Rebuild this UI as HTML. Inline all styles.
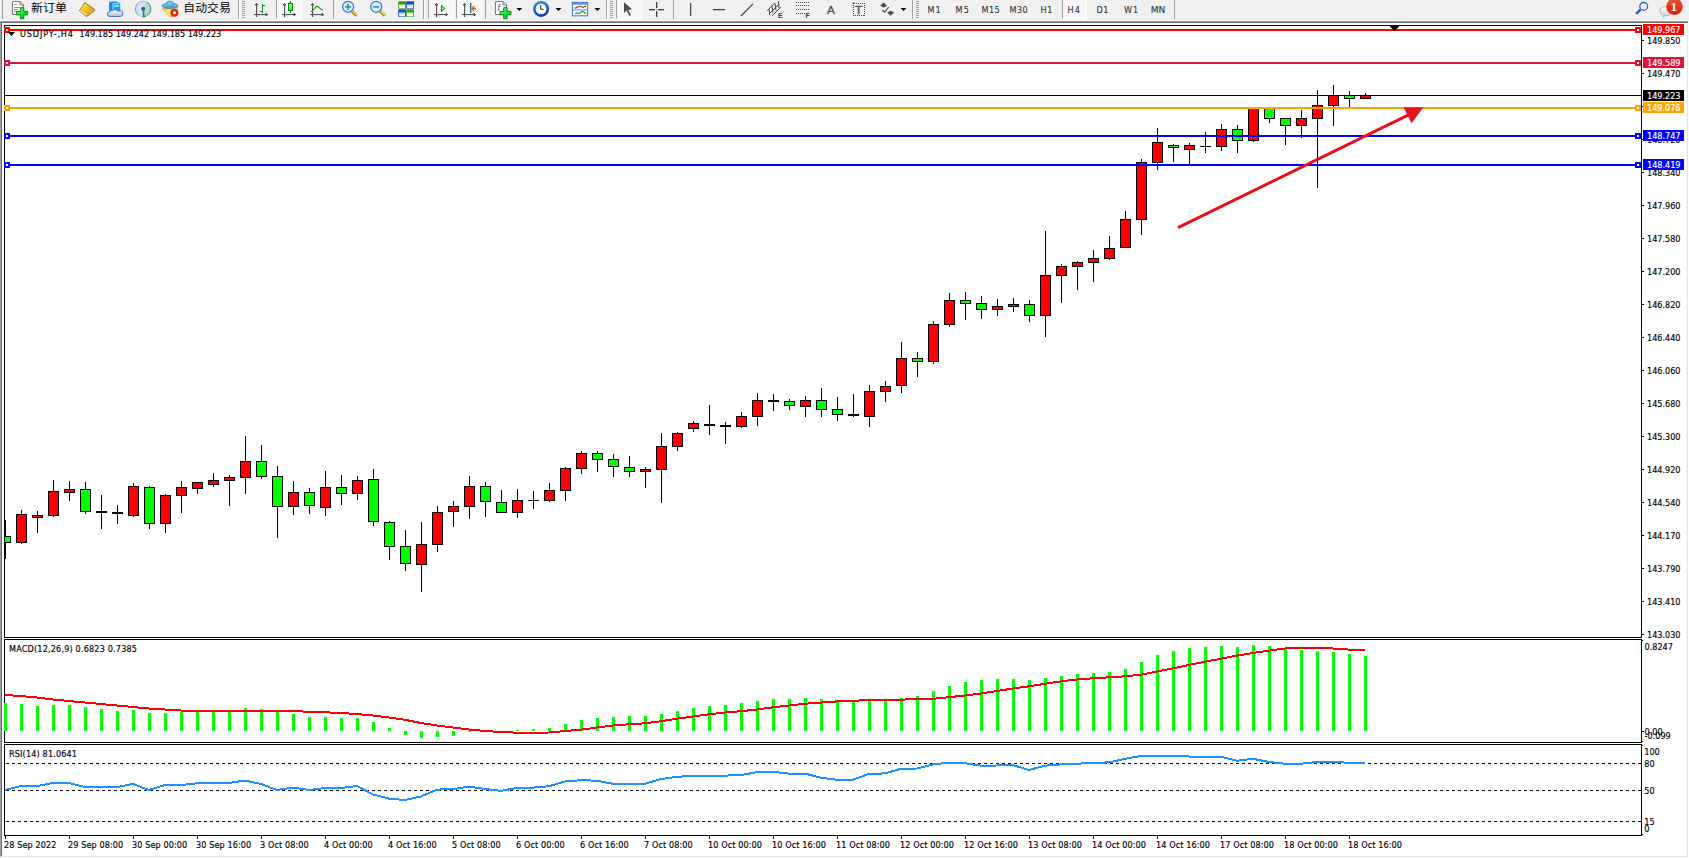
<!DOCTYPE html>
<html lang="zh"><head><meta charset="utf-8"><title>USDJPY-,H4</title>
<style>html,body{margin:0;padding:0;background:#f0f0f0;overflow:hidden}svg{display:block}text{white-space:pre}</style>
</head><body>
<svg width="1689" height="858" viewBox="0 0 1689 858">
<g shape-rendering="crispEdges">
<rect x="0" y="0" width="1689" height="858" fill="#f0f0f0"/>
<rect x="0" y="20" width="1689" height="1" fill="#f6f6f6"/>
<rect x="0" y="21" width="1688" height="1" fill="#a0a0a0"/>
<rect x="1" y="22" width="1687" height="1" fill="#696969"/>
<rect x="0" y="21" width="1" height="836" fill="#a0a0a0"/>
<rect x="1" y="22" width="1" height="834" fill="#696969"/>
<rect x="2" y="23" width="1685" height="833" fill="#ffffff"/>
<rect x="1687" y="23" width="1" height="834" fill="#e3e3e3"/>
<rect x="2" y="856" width="1686" height="1" fill="#e3e3e3"/>
<rect x="1688" y="21" width="1" height="837" fill="#ffffff"/>
<rect x="0" y="857" width="1689" height="1" fill="#ffffff"/>
<rect x="4" y="25" width="1638" height="1" fill="#000"/>
<rect x="4" y="637" width="1638" height="1" fill="#000"/>
<rect x="4" y="25" width="1" height="613" fill="#000"/>
<rect x="1641" y="25" width="1" height="613" fill="#000"/>
<rect x="4" y="639" width="1638" height="1" fill="#000"/>
<rect x="4" y="742" width="1638" height="1" fill="#000"/>
<rect x="4" y="639" width="1" height="104" fill="#000"/>
<rect x="1641" y="639" width="1" height="104" fill="#000"/>
<rect x="4" y="744" width="1638" height="1" fill="#000"/>
<rect x="4" y="835" width="1638" height="1" fill="#000"/>
<rect x="4" y="744" width="1" height="92" fill="#000"/>
<rect x="1641" y="744" width="1" height="92" fill="#000"/>
</g>
<defs><clipPath id="cm"><rect x="5" y="26" width="1636" height="611"/></clipPath></defs>
<g shape-rendering="crispEdges" clip-path="url(#cm)">
<rect x="5" y="520" width="1" height="39" fill="#000"/>
<rect x="0" y="536" width="11" height="7" fill="#000"/>
<rect x="1" y="537" width="9" height="5" fill="#00ff00"/>
<rect x="21" y="510" width="1" height="34" fill="#000"/>
<rect x="16" y="514" width="11" height="29" fill="#000"/>
<rect x="17" y="515" width="9" height="27" fill="#ff0000"/>
<rect x="37" y="511" width="1" height="22" fill="#000"/>
<rect x="32" y="515" width="11" height="3" fill="#000"/>
<rect x="33" y="516" width="9" height="1" fill="#ff0000"/>
<rect x="53" y="480" width="1" height="37" fill="#000"/>
<rect x="48" y="491" width="11" height="25" fill="#000"/>
<rect x="49" y="492" width="9" height="23" fill="#ff0000"/>
<rect x="69" y="481" width="1" height="20" fill="#000"/>
<rect x="64" y="489" width="11" height="4" fill="#000"/>
<rect x="65" y="490" width="9" height="2" fill="#ff0000"/>
<rect x="85" y="482" width="1" height="32" fill="#000"/>
<rect x="80" y="489" width="11" height="23" fill="#000"/>
<rect x="81" y="490" width="9" height="21" fill="#00ff00"/>
<rect x="101" y="495" width="1" height="34" fill="#000"/>
<rect x="96" y="511" width="11" height="2" fill="#000"/>
<rect x="117" y="505" width="1" height="19" fill="#000"/>
<rect x="112" y="512" width="11" height="2" fill="#000"/>
<rect x="133" y="483" width="1" height="34" fill="#000"/>
<rect x="128" y="486" width="11" height="30" fill="#000"/>
<rect x="129" y="487" width="9" height="28" fill="#ff0000"/>
<rect x="149" y="486" width="1" height="43" fill="#000"/>
<rect x="144" y="487" width="11" height="37" fill="#000"/>
<rect x="145" y="488" width="9" height="35" fill="#00ff00"/>
<rect x="165" y="494" width="1" height="39" fill="#000"/>
<rect x="160" y="495" width="11" height="29" fill="#000"/>
<rect x="161" y="496" width="9" height="27" fill="#ff0000"/>
<rect x="181" y="481" width="1" height="32" fill="#000"/>
<rect x="176" y="487" width="11" height="9" fill="#000"/>
<rect x="177" y="488" width="9" height="7" fill="#ff0000"/>
<rect x="197" y="482" width="1" height="12" fill="#000"/>
<rect x="192" y="482" width="11" height="7" fill="#000"/>
<rect x="193" y="483" width="9" height="5" fill="#ff0000"/>
<rect x="213" y="473" width="1" height="14" fill="#000"/>
<rect x="208" y="480" width="11" height="5" fill="#000"/>
<rect x="209" y="481" width="9" height="3" fill="#ff0000"/>
<rect x="229" y="475" width="1" height="31" fill="#000"/>
<rect x="224" y="477" width="11" height="4" fill="#000"/>
<rect x="225" y="478" width="9" height="2" fill="#ff0000"/>
<rect x="245" y="436" width="1" height="58" fill="#000"/>
<rect x="240" y="461" width="11" height="17" fill="#000"/>
<rect x="241" y="462" width="9" height="15" fill="#ff0000"/>
<rect x="261" y="445" width="1" height="34" fill="#000"/>
<rect x="256" y="461" width="11" height="16" fill="#000"/>
<rect x="257" y="462" width="9" height="14" fill="#00ff00"/>
<rect x="277" y="466" width="1" height="72" fill="#000"/>
<rect x="272" y="476" width="11" height="31" fill="#000"/>
<rect x="273" y="477" width="9" height="29" fill="#00ff00"/>
<rect x="293" y="481" width="1" height="34" fill="#000"/>
<rect x="288" y="492" width="11" height="15" fill="#000"/>
<rect x="289" y="493" width="9" height="13" fill="#ff0000"/>
<rect x="309" y="488" width="1" height="26" fill="#000"/>
<rect x="304" y="492" width="11" height="14" fill="#000"/>
<rect x="305" y="493" width="9" height="12" fill="#00ff00"/>
<rect x="325" y="471" width="1" height="45" fill="#000"/>
<rect x="320" y="487" width="11" height="21" fill="#000"/>
<rect x="321" y="488" width="9" height="19" fill="#ff0000"/>
<rect x="341" y="475" width="1" height="30" fill="#000"/>
<rect x="336" y="487" width="11" height="7" fill="#000"/>
<rect x="337" y="488" width="9" height="5" fill="#00ff00"/>
<rect x="357" y="476" width="1" height="24" fill="#000"/>
<rect x="352" y="480" width="11" height="14" fill="#000"/>
<rect x="353" y="481" width="9" height="12" fill="#ff0000"/>
<rect x="373" y="469" width="1" height="57" fill="#000"/>
<rect x="368" y="479" width="11" height="43" fill="#000"/>
<rect x="369" y="480" width="9" height="41" fill="#00ff00"/>
<rect x="389" y="521" width="1" height="39" fill="#000"/>
<rect x="384" y="522" width="11" height="25" fill="#000"/>
<rect x="385" y="523" width="9" height="23" fill="#00ff00"/>
<rect x="405" y="530" width="1" height="41" fill="#000"/>
<rect x="400" y="546" width="11" height="18" fill="#000"/>
<rect x="401" y="547" width="9" height="16" fill="#00ff00"/>
<rect x="421" y="522" width="1" height="70" fill="#000"/>
<rect x="416" y="544" width="11" height="21" fill="#000"/>
<rect x="417" y="545" width="9" height="19" fill="#ff0000"/>
<rect x="437" y="506" width="1" height="46" fill="#000"/>
<rect x="432" y="512" width="11" height="33" fill="#000"/>
<rect x="433" y="513" width="9" height="31" fill="#ff0000"/>
<rect x="453" y="501" width="1" height="26" fill="#000"/>
<rect x="448" y="506" width="11" height="6" fill="#000"/>
<rect x="449" y="507" width="9" height="4" fill="#ff0000"/>
<rect x="469" y="476" width="1" height="43" fill="#000"/>
<rect x="464" y="486" width="11" height="21" fill="#000"/>
<rect x="465" y="487" width="9" height="19" fill="#ff0000"/>
<rect x="485" y="482" width="1" height="35" fill="#000"/>
<rect x="480" y="486" width="11" height="16" fill="#000"/>
<rect x="481" y="487" width="9" height="14" fill="#00ff00"/>
<rect x="501" y="490" width="1" height="23" fill="#000"/>
<rect x="496" y="502" width="11" height="11" fill="#000"/>
<rect x="497" y="503" width="9" height="9" fill="#00ff00"/>
<rect x="517" y="489" width="1" height="29" fill="#000"/>
<rect x="512" y="500" width="11" height="13" fill="#000"/>
<rect x="513" y="501" width="9" height="11" fill="#ff0000"/>
<rect x="533" y="491" width="1" height="18" fill="#000"/>
<rect x="528" y="500" width="11" height="1" fill="#000"/>
<rect x="549" y="483" width="1" height="19" fill="#000"/>
<rect x="544" y="490" width="11" height="11" fill="#000"/>
<rect x="545" y="491" width="9" height="9" fill="#ff0000"/>
<rect x="565" y="467" width="1" height="34" fill="#000"/>
<rect x="560" y="468" width="11" height="23" fill="#000"/>
<rect x="561" y="469" width="9" height="21" fill="#ff0000"/>
<rect x="581" y="451" width="1" height="23" fill="#000"/>
<rect x="576" y="453" width="11" height="16" fill="#000"/>
<rect x="577" y="454" width="9" height="14" fill="#ff0000"/>
<rect x="597" y="451" width="1" height="21" fill="#000"/>
<rect x="592" y="453" width="11" height="7" fill="#000"/>
<rect x="593" y="454" width="9" height="5" fill="#00ff00"/>
<rect x="613" y="454" width="1" height="23" fill="#000"/>
<rect x="608" y="459" width="11" height="8" fill="#000"/>
<rect x="609" y="460" width="9" height="6" fill="#00ff00"/>
<rect x="629" y="456" width="1" height="21" fill="#000"/>
<rect x="624" y="467" width="11" height="5" fill="#000"/>
<rect x="625" y="468" width="9" height="3" fill="#00ff00"/>
<rect x="645" y="467" width="1" height="21" fill="#000"/>
<rect x="640" y="469" width="11" height="3" fill="#000"/>
<rect x="641" y="470" width="9" height="1" fill="#ff0000"/>
<rect x="661" y="433" width="1" height="70" fill="#000"/>
<rect x="656" y="446" width="11" height="24" fill="#000"/>
<rect x="657" y="447" width="9" height="22" fill="#ff0000"/>
<rect x="677" y="432" width="1" height="19" fill="#000"/>
<rect x="672" y="433" width="11" height="14" fill="#000"/>
<rect x="673" y="434" width="9" height="12" fill="#ff0000"/>
<rect x="693" y="421" width="1" height="11" fill="#000"/>
<rect x="688" y="423" width="11" height="6" fill="#000"/>
<rect x="689" y="424" width="9" height="4" fill="#ff0000"/>
<rect x="709" y="405" width="1" height="30" fill="#000"/>
<rect x="704" y="424" width="11" height="2" fill="#000"/>
<rect x="725" y="422" width="1" height="22" fill="#000"/>
<rect x="720" y="425" width="11" height="2" fill="#000"/>
<rect x="741" y="412" width="1" height="16" fill="#000"/>
<rect x="736" y="416" width="11" height="11" fill="#000"/>
<rect x="737" y="417" width="9" height="9" fill="#ff0000"/>
<rect x="757" y="393" width="1" height="33" fill="#000"/>
<rect x="752" y="400" width="11" height="17" fill="#000"/>
<rect x="753" y="401" width="9" height="15" fill="#ff0000"/>
<rect x="773" y="394" width="1" height="17" fill="#000"/>
<rect x="768" y="400" width="11" height="2" fill="#000"/>
<rect x="789" y="399" width="1" height="11" fill="#000"/>
<rect x="784" y="401" width="11" height="5" fill="#000"/>
<rect x="785" y="402" width="9" height="3" fill="#00ff00"/>
<rect x="805" y="396" width="1" height="21" fill="#000"/>
<rect x="800" y="400" width="11" height="7" fill="#000"/>
<rect x="801" y="401" width="9" height="5" fill="#ff0000"/>
<rect x="821" y="388" width="1" height="29" fill="#000"/>
<rect x="816" y="400" width="11" height="10" fill="#000"/>
<rect x="817" y="401" width="9" height="8" fill="#00ff00"/>
<rect x="837" y="397" width="1" height="24" fill="#000"/>
<rect x="832" y="409" width="11" height="6" fill="#000"/>
<rect x="833" y="410" width="9" height="4" fill="#00ff00"/>
<rect x="853" y="394" width="1" height="23" fill="#000"/>
<rect x="848" y="414" width="11" height="2" fill="#000"/>
<rect x="869" y="385" width="1" height="42" fill="#000"/>
<rect x="864" y="391" width="11" height="26" fill="#000"/>
<rect x="865" y="392" width="9" height="24" fill="#ff0000"/>
<rect x="885" y="381" width="1" height="21" fill="#000"/>
<rect x="880" y="386" width="11" height="6" fill="#000"/>
<rect x="881" y="387" width="9" height="4" fill="#ff0000"/>
<rect x="901" y="342" width="1" height="51" fill="#000"/>
<rect x="896" y="358" width="11" height="28" fill="#000"/>
<rect x="897" y="359" width="9" height="26" fill="#ff0000"/>
<rect x="917" y="352" width="1" height="25" fill="#000"/>
<rect x="912" y="358" width="11" height="4" fill="#000"/>
<rect x="913" y="359" width="9" height="2" fill="#00ff00"/>
<rect x="933" y="321" width="1" height="43" fill="#000"/>
<rect x="928" y="324" width="11" height="38" fill="#000"/>
<rect x="929" y="325" width="9" height="36" fill="#ff0000"/>
<rect x="949" y="293" width="1" height="34" fill="#000"/>
<rect x="944" y="300" width="11" height="25" fill="#000"/>
<rect x="945" y="301" width="9" height="23" fill="#ff0000"/>
<rect x="965" y="292" width="1" height="28" fill="#000"/>
<rect x="960" y="300" width="11" height="4" fill="#000"/>
<rect x="961" y="301" width="9" height="2" fill="#00ff00"/>
<rect x="981" y="296" width="1" height="23" fill="#000"/>
<rect x="976" y="303" width="11" height="7" fill="#000"/>
<rect x="977" y="304" width="9" height="5" fill="#00ff00"/>
<rect x="997" y="299" width="1" height="17" fill="#000"/>
<rect x="992" y="306" width="11" height="4" fill="#000"/>
<rect x="993" y="307" width="9" height="2" fill="#ff0000"/>
<rect x="1013" y="298" width="1" height="14" fill="#000"/>
<rect x="1008" y="304" width="11" height="3" fill="#000"/>
<rect x="1009" y="305" width="9" height="1" fill="#ff0000"/>
<rect x="1029" y="300" width="1" height="22" fill="#000"/>
<rect x="1024" y="304" width="11" height="12" fill="#000"/>
<rect x="1025" y="305" width="9" height="10" fill="#00ff00"/>
<rect x="1045" y="231" width="1" height="106" fill="#000"/>
<rect x="1040" y="275" width="11" height="41" fill="#000"/>
<rect x="1041" y="276" width="9" height="39" fill="#ff0000"/>
<rect x="1061" y="264" width="1" height="39" fill="#000"/>
<rect x="1056" y="266" width="11" height="10" fill="#000"/>
<rect x="1057" y="267" width="9" height="8" fill="#ff0000"/>
<rect x="1077" y="261" width="1" height="29" fill="#000"/>
<rect x="1072" y="262" width="11" height="5" fill="#000"/>
<rect x="1073" y="263" width="9" height="3" fill="#ff0000"/>
<rect x="1093" y="250" width="1" height="32" fill="#000"/>
<rect x="1088" y="258" width="11" height="5" fill="#000"/>
<rect x="1089" y="259" width="9" height="3" fill="#ff0000"/>
<rect x="1109" y="236" width="1" height="24" fill="#000"/>
<rect x="1104" y="248" width="11" height="11" fill="#000"/>
<rect x="1105" y="249" width="9" height="9" fill="#ff0000"/>
<rect x="1125" y="211" width="1" height="37" fill="#000"/>
<rect x="1120" y="219" width="11" height="29" fill="#000"/>
<rect x="1121" y="220" width="9" height="27" fill="#ff0000"/>
<rect x="1141" y="159" width="1" height="76" fill="#000"/>
<rect x="1136" y="162" width="11" height="58" fill="#000"/>
<rect x="1137" y="163" width="9" height="56" fill="#ff0000"/>
<rect x="1157" y="128" width="1" height="42" fill="#000"/>
<rect x="1152" y="142" width="11" height="21" fill="#000"/>
<rect x="1153" y="143" width="9" height="19" fill="#ff0000"/>
<rect x="1173" y="144" width="1" height="18" fill="#000"/>
<rect x="1168" y="145" width="11" height="3" fill="#000"/>
<rect x="1169" y="146" width="9" height="1" fill="#00ff00"/>
<rect x="1189" y="143" width="1" height="21" fill="#000"/>
<rect x="1184" y="145" width="11" height="5" fill="#000"/>
<rect x="1185" y="146" width="9" height="3" fill="#ff0000"/>
<rect x="1205" y="132" width="1" height="21" fill="#000"/>
<rect x="1200" y="146" width="11" height="1" fill="#000"/>
<rect x="1221" y="124" width="1" height="27" fill="#000"/>
<rect x="1216" y="129" width="11" height="18" fill="#000"/>
<rect x="1217" y="130" width="9" height="16" fill="#ff0000"/>
<rect x="1237" y="125" width="1" height="28" fill="#000"/>
<rect x="1232" y="129" width="11" height="12" fill="#000"/>
<rect x="1233" y="130" width="9" height="10" fill="#00ff00"/>
<rect x="1253" y="107" width="1" height="35" fill="#000"/>
<rect x="1248" y="107" width="11" height="34" fill="#000"/>
<rect x="1249" y="108" width="9" height="32" fill="#ff0000"/>
<rect x="1269" y="107" width="1" height="16" fill="#000"/>
<rect x="1264" y="107" width="11" height="12" fill="#000"/>
<rect x="1265" y="108" width="9" height="10" fill="#00ff00"/>
<rect x="1285" y="118" width="1" height="27" fill="#000"/>
<rect x="1280" y="118" width="11" height="8" fill="#000"/>
<rect x="1281" y="119" width="9" height="6" fill="#00ff00"/>
<rect x="1301" y="110" width="1" height="28" fill="#000"/>
<rect x="1296" y="118" width="11" height="8" fill="#000"/>
<rect x="1297" y="119" width="9" height="6" fill="#ff0000"/>
<rect x="1317" y="90" width="1" height="98" fill="#000"/>
<rect x="1312" y="105" width="11" height="14" fill="#000"/>
<rect x="1313" y="106" width="9" height="12" fill="#ff0000"/>
<rect x="1333" y="85" width="1" height="41" fill="#000"/>
<rect x="1328" y="95" width="11" height="11" fill="#000"/>
<rect x="1329" y="96" width="9" height="9" fill="#ff0000"/>
<rect x="1349" y="91" width="1" height="16" fill="#000"/>
<rect x="1344" y="95" width="11" height="4" fill="#000"/>
<rect x="1345" y="96" width="9" height="2" fill="#00ff00"/>
<rect x="1365" y="93" width="1" height="6" fill="#000"/>
<rect x="1360" y="95" width="11" height="4" fill="#000"/>
<rect x="1361" y="96" width="9" height="2" fill="#ff0000"/>
</g>
<g shape-rendering="crispEdges">
<rect x="5" y="95" width="1636" height="1" fill="#000"/>
<rect x="1642" y="40" width="2" height="1" fill="#000"/>
<rect x="1642" y="73" width="2" height="1" fill="#000"/>
<rect x="1642" y="106" width="2" height="1" fill="#000"/>
<rect x="1642" y="139" width="2" height="1" fill="#000"/>
<rect x="1642" y="172" width="2" height="1" fill="#000"/>
<rect x="1642" y="205" width="2" height="1" fill="#000"/>
<rect x="1642" y="238" width="2" height="1" fill="#000"/>
<rect x="1642" y="271" width="2" height="1" fill="#000"/>
<rect x="1642" y="304" width="2" height="1" fill="#000"/>
<rect x="1642" y="337" width="2" height="1" fill="#000"/>
<rect x="1642" y="370" width="2" height="1" fill="#000"/>
<rect x="1642" y="403" width="2" height="1" fill="#000"/>
<rect x="1642" y="436" width="2" height="1" fill="#000"/>
<rect x="1642" y="469" width="2" height="1" fill="#000"/>
<rect x="1642" y="502" width="2" height="1" fill="#000"/>
<rect x="1642" y="535" width="2" height="1" fill="#000"/>
<rect x="1642" y="568" width="2" height="1" fill="#000"/>
<rect x="1642" y="601" width="2" height="1" fill="#000"/>
<rect x="1642" y="634" width="2" height="1" fill="#000"/>
</g>
<text x="1647" y="44" font-size="9" fill="#000" stroke="#000" stroke-width="0.15" font-family="'DejaVu Sans Condensed','Liberation Sans',sans-serif">149.850</text>
<text x="1647" y="77" font-size="9" fill="#000" stroke="#000" stroke-width="0.15" font-family="'DejaVu Sans Condensed','Liberation Sans',sans-serif">149.470</text>
<text x="1647" y="110" font-size="9" fill="#000" stroke="#000" stroke-width="0.15" font-family="'DejaVu Sans Condensed','Liberation Sans',sans-serif">149.090</text>
<text x="1647" y="143" font-size="9" fill="#000" stroke="#000" stroke-width="0.15" font-family="'DejaVu Sans Condensed','Liberation Sans',sans-serif">148.720</text>
<text x="1647" y="176" font-size="9" fill="#000" stroke="#000" stroke-width="0.15" font-family="'DejaVu Sans Condensed','Liberation Sans',sans-serif">148.340</text>
<text x="1647" y="209" font-size="9" fill="#000" stroke="#000" stroke-width="0.15" font-family="'DejaVu Sans Condensed','Liberation Sans',sans-serif">147.960</text>
<text x="1647" y="242" font-size="9" fill="#000" stroke="#000" stroke-width="0.15" font-family="'DejaVu Sans Condensed','Liberation Sans',sans-serif">147.580</text>
<text x="1647" y="275" font-size="9" fill="#000" stroke="#000" stroke-width="0.15" font-family="'DejaVu Sans Condensed','Liberation Sans',sans-serif">147.200</text>
<text x="1647" y="308" font-size="9" fill="#000" stroke="#000" stroke-width="0.15" font-family="'DejaVu Sans Condensed','Liberation Sans',sans-serif">146.820</text>
<text x="1647" y="341" font-size="9" fill="#000" stroke="#000" stroke-width="0.15" font-family="'DejaVu Sans Condensed','Liberation Sans',sans-serif">146.440</text>
<text x="1647" y="374" font-size="9" fill="#000" stroke="#000" stroke-width="0.15" font-family="'DejaVu Sans Condensed','Liberation Sans',sans-serif">146.060</text>
<text x="1647" y="407" font-size="9" fill="#000" stroke="#000" stroke-width="0.15" font-family="'DejaVu Sans Condensed','Liberation Sans',sans-serif">145.680</text>
<text x="1647" y="440" font-size="9" fill="#000" stroke="#000" stroke-width="0.15" font-family="'DejaVu Sans Condensed','Liberation Sans',sans-serif">145.300</text>
<text x="1647" y="473" font-size="9" fill="#000" stroke="#000" stroke-width="0.15" font-family="'DejaVu Sans Condensed','Liberation Sans',sans-serif">144.920</text>
<text x="1647" y="506" font-size="9" fill="#000" stroke="#000" stroke-width="0.15" font-family="'DejaVu Sans Condensed','Liberation Sans',sans-serif">144.540</text>
<text x="1647" y="539" font-size="9" fill="#000" stroke="#000" stroke-width="0.15" font-family="'DejaVu Sans Condensed','Liberation Sans',sans-serif">144.170</text>
<text x="1647" y="572" font-size="9" fill="#000" stroke="#000" stroke-width="0.15" font-family="'DejaVu Sans Condensed','Liberation Sans',sans-serif">143.790</text>
<text x="1647" y="605" font-size="9" fill="#000" stroke="#000" stroke-width="0.15" font-family="'DejaVu Sans Condensed','Liberation Sans',sans-serif">143.410</text>
<text x="1647" y="638" font-size="9" fill="#000" stroke="#000" stroke-width="0.15" font-family="'DejaVu Sans Condensed','Liberation Sans',sans-serif">143.030</text>
<g shape-rendering="crispEdges">
<rect x="4" y="29" width="1637" height="2" fill="#ff0000"/>
<rect x="4" y="27" width="6" height="6" fill="#ff0000"/>
<rect x="6" y="29" width="2" height="2" fill="#fff"/>
<rect x="1635" y="27" width="6" height="6" fill="#ff0000"/>
<rect x="1637" y="29" width="2" height="2" fill="#fff"/>
<rect x="1643" y="24" width="41" height="11" fill="#ff0000"/>
<rect x="4" y="62" width="1637" height="2" fill="#dc143c"/>
<rect x="4" y="60" width="6" height="6" fill="#dc143c"/>
<rect x="6" y="62" width="2" height="2" fill="#fff"/>
<rect x="1635" y="60" width="6" height="6" fill="#dc143c"/>
<rect x="1637" y="62" width="2" height="2" fill="#fff"/>
<rect x="1643" y="57" width="41" height="11" fill="#dc143c"/>
<rect x="4" y="107" width="1637" height="2" fill="#ffa500"/>
<rect x="4" y="105" width="6" height="6" fill="#ffa500"/>
<rect x="6" y="107" width="2" height="2" fill="#fff"/>
<rect x="1635" y="105" width="6" height="6" fill="#ffa500"/>
<rect x="1637" y="107" width="2" height="2" fill="#fff"/>
<rect x="1643" y="102" width="41" height="11" fill="#ffa500"/>
<rect x="4" y="135" width="1637" height="2" fill="#0000ff"/>
<rect x="4" y="133" width="6" height="6" fill="#0000ff"/>
<rect x="6" y="135" width="2" height="2" fill="#fff"/>
<rect x="1635" y="133" width="6" height="6" fill="#0000ff"/>
<rect x="1637" y="135" width="2" height="2" fill="#fff"/>
<rect x="1643" y="130" width="41" height="11" fill="#0000ff"/>
<rect x="4" y="164" width="1637" height="2" fill="#0000ff"/>
<rect x="4" y="162" width="6" height="6" fill="#0000ff"/>
<rect x="6" y="164" width="2" height="2" fill="#fff"/>
<rect x="1635" y="162" width="6" height="6" fill="#0000ff"/>
<rect x="1637" y="164" width="2" height="2" fill="#fff"/>
<rect x="1643" y="159" width="41" height="11" fill="#0000ff"/>
<rect x="1643" y="90" width="41" height="11" fill="#000"/>
</g>
<text x="1647" y="33" font-size="9" fill="#fff" stroke="#fff" stroke-width="0.15" font-family="'DejaVu Sans Condensed','Liberation Sans',sans-serif">149.967</text>
<text x="1647" y="66" font-size="9" fill="#fff" stroke="#fff" stroke-width="0.15" font-family="'DejaVu Sans Condensed','Liberation Sans',sans-serif">149.589</text>
<text x="1647" y="111" font-size="9" fill="#fff" stroke="#fff" stroke-width="0.15" font-family="'DejaVu Sans Condensed','Liberation Sans',sans-serif">149.076</text>
<text x="1647" y="139" font-size="9" fill="#fff" stroke="#fff" stroke-width="0.15" font-family="'DejaVu Sans Condensed','Liberation Sans',sans-serif">148.747</text>
<text x="1647" y="168" font-size="9" fill="#fff" stroke="#fff" stroke-width="0.15" font-family="'DejaVu Sans Condensed','Liberation Sans',sans-serif">148.419</text>
<text x="1647" y="99" font-size="9" fill="#fff" stroke="#fff" stroke-width="0.15" font-family="'DejaVu Sans Condensed','Liberation Sans',sans-serif">149.223</text>
<polygon points="8,32 15,32 11.5,36" fill="#000"/>
<polygon points="1389.5,26 1399.5,26 1394.5,31" fill="#000"/>
<text x="20" y="37" font-size="9" fill="#000" stroke="#000" stroke-width="0.15" font-family="'DejaVu Sans Condensed','Liberation Sans',sans-serif" textLength="53" lengthAdjust="spacing">USDJPY-,H4</text>
<text x="79.6" y="37" font-size="9" fill="#000" stroke="#000" stroke-width="0.15" font-family="'DejaVu Sans Condensed','Liberation Sans',sans-serif">149.185 149.242 149.185 149.223</text>
<line x1="1178" y1="227.6" x2="1409" y2="114.6" stroke="#e8111b" stroke-width="3"/>
<polygon points="1423.4,107.3 1403.5,107.3 1411.5,123.2" fill="#e8111b"/>
<g shape-rendering="crispEdges">
<rect x="4" y="703" width="3" height="28" fill="#00ff00"/>
<rect x="20" y="704" width="3" height="27" fill="#00ff00"/>
<rect x="36" y="706" width="3" height="25" fill="#00ff00"/>
<rect x="52" y="705" width="3" height="26" fill="#00ff00"/>
<rect x="68" y="705" width="3" height="26" fill="#00ff00"/>
<rect x="84" y="707" width="3" height="24" fill="#00ff00"/>
<rect x="100" y="709" width="3" height="22" fill="#00ff00"/>
<rect x="116" y="711" width="3" height="20" fill="#00ff00"/>
<rect x="132" y="710" width="3" height="21" fill="#00ff00"/>
<rect x="148" y="713" width="3" height="18" fill="#00ff00"/>
<rect x="164" y="713" width="3" height="18" fill="#00ff00"/>
<rect x="180" y="712" width="3" height="19" fill="#00ff00"/>
<rect x="196" y="711" width="3" height="20" fill="#00ff00"/>
<rect x="212" y="711" width="3" height="20" fill="#00ff00"/>
<rect x="228" y="711" width="3" height="20" fill="#00ff00"/>
<rect x="244" y="708" width="3" height="23" fill="#00ff00"/>
<rect x="260" y="709" width="3" height="22" fill="#00ff00"/>
<rect x="276" y="711" width="3" height="20" fill="#00ff00"/>
<rect x="292" y="714" width="3" height="17" fill="#00ff00"/>
<rect x="308" y="717" width="3" height="14" fill="#00ff00"/>
<rect x="324" y="717" width="3" height="14" fill="#00ff00"/>
<rect x="340" y="718" width="3" height="13" fill="#00ff00"/>
<rect x="356" y="718" width="3" height="13" fill="#00ff00"/>
<rect x="372" y="722" width="3" height="9" fill="#00ff00"/>
<rect x="388" y="728" width="3" height="3" fill="#00ff00"/>
<rect x="404" y="731" width="3" height="4" fill="#00ff00"/>
<rect x="420" y="731" width="3" height="7" fill="#00ff00"/>
<rect x="436" y="731" width="3" height="6" fill="#00ff00"/>
<rect x="452" y="731" width="3" height="5" fill="#00ff00"/>
<rect x="468" y="731" width="3" height="1" fill="#00ff00"/>
<rect x="516" y="730" width="3" height="1" fill="#00ff00"/>
<rect x="532" y="729" width="3" height="2" fill="#00ff00"/>
<rect x="548" y="728" width="3" height="3" fill="#00ff00"/>
<rect x="564" y="724" width="3" height="7" fill="#00ff00"/>
<rect x="580" y="720" width="3" height="11" fill="#00ff00"/>
<rect x="596" y="718" width="3" height="13" fill="#00ff00"/>
<rect x="612" y="717" width="3" height="14" fill="#00ff00"/>
<rect x="628" y="716" width="3" height="15" fill="#00ff00"/>
<rect x="644" y="716" width="3" height="15" fill="#00ff00"/>
<rect x="660" y="714" width="3" height="17" fill="#00ff00"/>
<rect x="676" y="711" width="3" height="20" fill="#00ff00"/>
<rect x="692" y="708" width="3" height="23" fill="#00ff00"/>
<rect x="708" y="706" width="3" height="25" fill="#00ff00"/>
<rect x="724" y="705" width="3" height="26" fill="#00ff00"/>
<rect x="740" y="703" width="3" height="28" fill="#00ff00"/>
<rect x="756" y="701" width="3" height="30" fill="#00ff00"/>
<rect x="772" y="699" width="3" height="32" fill="#00ff00"/>
<rect x="788" y="699" width="3" height="32" fill="#00ff00"/>
<rect x="804" y="698" width="3" height="33" fill="#00ff00"/>
<rect x="820" y="699" width="3" height="32" fill="#00ff00"/>
<rect x="836" y="701" width="3" height="30" fill="#00ff00"/>
<rect x="852" y="702" width="3" height="29" fill="#00ff00"/>
<rect x="868" y="701" width="3" height="30" fill="#00ff00"/>
<rect x="884" y="700" width="3" height="31" fill="#00ff00"/>
<rect x="900" y="698" width="3" height="33" fill="#00ff00"/>
<rect x="916" y="696" width="3" height="35" fill="#00ff00"/>
<rect x="932" y="691" width="3" height="40" fill="#00ff00"/>
<rect x="948" y="686" width="3" height="45" fill="#00ff00"/>
<rect x="964" y="682" width="3" height="49" fill="#00ff00"/>
<rect x="980" y="680" width="3" height="51" fill="#00ff00"/>
<rect x="996" y="679" width="3" height="52" fill="#00ff00"/>
<rect x="1012" y="679" width="3" height="52" fill="#00ff00"/>
<rect x="1028" y="680" width="3" height="51" fill="#00ff00"/>
<rect x="1044" y="678" width="3" height="53" fill="#00ff00"/>
<rect x="1060" y="676" width="3" height="55" fill="#00ff00"/>
<rect x="1076" y="674" width="3" height="57" fill="#00ff00"/>
<rect x="1092" y="673" width="3" height="58" fill="#00ff00"/>
<rect x="1108" y="672" width="3" height="59" fill="#00ff00"/>
<rect x="1124" y="669" width="3" height="62" fill="#00ff00"/>
<rect x="1140" y="662" width="3" height="69" fill="#00ff00"/>
<rect x="1156" y="655" width="3" height="76" fill="#00ff00"/>
<rect x="1172" y="651" width="3" height="80" fill="#00ff00"/>
<rect x="1188" y="648" width="3" height="83" fill="#00ff00"/>
<rect x="1204" y="647" width="3" height="84" fill="#00ff00"/>
<rect x="1220" y="646" width="3" height="85" fill="#00ff00"/>
<rect x="1236" y="647" width="3" height="84" fill="#00ff00"/>
<rect x="1252" y="645" width="3" height="86" fill="#00ff00"/>
<rect x="1268" y="646" width="3" height="85" fill="#00ff00"/>
<rect x="1284" y="648" width="3" height="83" fill="#00ff00"/>
<rect x="1300" y="650" width="3" height="81" fill="#00ff00"/>
<rect x="1316" y="651" width="3" height="80" fill="#00ff00"/>
<rect x="1332" y="652" width="3" height="79" fill="#00ff00"/>
<rect x="1348" y="654" width="3" height="77" fill="#00ff00"/>
<rect x="1364" y="656" width="3" height="75" fill="#00ff00"/>
</g>
<polyline points="5,695 21,696 37,697.5 53,699.5 69,701 85,702.5 101,704 117,705.5 133,707 149,708.5 165,709.5 181,710.5 197,711 213,711 229,711 245,711 261,711 277,711 293,711.2 309,711.7 325,712.3 341,713 357,714 373,715.5 389,717.5 405,719.8 421,723 437,725.5 453,727.5 469,729.5 485,731 501,732 517,732.7 533,732.8 549,732.5 565,731 581,729.7 597,727.5 613,725.5 629,724.3 645,723.3 661,721.2 677,718.7 693,716.5 709,714.3 725,712.5 741,711.2 757,709.5 773,707.3 789,705.5 805,703.7 821,702.6 837,701.4 853,700.7 869,700.2 885,699.9 901,699.6 917,699.2 933,698.8 949,697.2 965,695.5 981,693.5 997,691 1013,688.5 1029,686.3 1045,683.8 1061,681.3 1077,679.5 1093,678.3 1109,677.3 1125,676.3 1141,674.8 1157,671.5 1173,668.3 1189,665 1205,661.7 1221,658.7 1237,655.6 1253,653 1269,650.6 1285,648.5 1301,648 1317,648 1333,648.5 1349,649.6 1365,649.6" fill="none" stroke="#ff0000" stroke-width="2" stroke-linejoin="round" shape-rendering="crispEdges"/>
<text x="9" y="652" font-size="9" fill="#000" stroke="#000" stroke-width="0.15" font-family="'DejaVu Sans Condensed','Liberation Sans',sans-serif" textLength="128" lengthAdjust="spacing">MACD(12,26,9) 0.6823 0.7385</text>
<text x="1644.6" y="650" font-size="9" fill="#000" stroke="#000" stroke-width="0.15" font-family="'DejaVu Sans Condensed','Liberation Sans',sans-serif">0.8247</text>
<text x="1644.6" y="735" font-size="9" fill="#000" stroke="#000" stroke-width="0.15" font-family="'DejaVu Sans Condensed','Liberation Sans',sans-serif">0.00</text>
<text x="1644.6" y="739" font-size="9" fill="#000" stroke="#000" stroke-width="0.15" font-family="'DejaVu Sans Condensed','Liberation Sans',sans-serif">-0.099</text>
<line x1="5" y1="763.5" x2="1641" y2="763.5" stroke="#000" stroke-width="1" stroke-dasharray="3,3" stroke-dashoffset="5" shape-rendering="crispEdges"/>
<line x1="5" y1="790.5" x2="1641" y2="790.5" stroke="#000" stroke-width="1" stroke-dasharray="3,3" stroke-dashoffset="5" shape-rendering="crispEdges"/>
<line x1="5" y1="821.5" x2="1641" y2="821.5" stroke="#000" stroke-width="1" stroke-dasharray="3,3" stroke-dashoffset="5" shape-rendering="crispEdges"/>
<polyline points="5,790 21,786 37,786 53,783 69,783 85,787 101,787 117,787 133,784 149,790 165,785 181,785 197,783.3 213,783 229,783 245,780.5 261,784 277,790 293,787.6 309,790 325,788 341,788 357,786 373,794.5 389,798.6 405,800 421,796.5 437,789.6 453,789.1 469,786.6 485,788.9 501,790.9 517,787.9 533,787.6 549,786.3 565,781.5 581,780.2 597,780.7 613,783.8 629,783.8 645,783.8 661,779 677,776.9 693,775.6 709,775.6 725,775.6 741,775.1 757,772.1 773,771.8 789,773.6 805,773.6 821,777.7 837,779.7 853,779.7 869,773.9 885,773.4 901,768.8 917,768.5 933,764.4 949,762.7 965,763.2 981,765.7 997,765.5 1013,765.2 1029,770 1045,765.7 1061,764.4 1077,763.7 1093,762.9 1109,762.4 1125,758.8 1141,756 1157,755.8 1173,755.8 1189,756.5 1205,756.6 1221,756.8 1237,760.8 1253,758.8 1269,762 1285,763.7 1301,763.7 1317,762 1333,762.3 1349,762.6 1365,762.6" fill="none" stroke="#1e90ff" stroke-width="2" stroke-linejoin="round" shape-rendering="crispEdges"/>
<text x="9" y="757" font-size="9" fill="#000" stroke="#000" stroke-width="0.15" font-family="'DejaVu Sans Condensed','Liberation Sans',sans-serif" textLength="68" lengthAdjust="spacing">RSI(14) 81.0641</text>
<text x="1644.3" y="755" font-size="9" fill="#000" stroke="#000" stroke-width="0.15" font-family="'DejaVu Sans Condensed','Liberation Sans',sans-serif">100</text>
<text x="1644.3" y="767" font-size="9" fill="#000" stroke="#000" stroke-width="0.15" font-family="'DejaVu Sans Condensed','Liberation Sans',sans-serif">80</text>
<text x="1644.3" y="794" font-size="9" fill="#000" stroke="#000" stroke-width="0.15" font-family="'DejaVu Sans Condensed','Liberation Sans',sans-serif">50</text>
<text x="1644.3" y="825" font-size="9" fill="#000" stroke="#000" stroke-width="0.15" font-family="'DejaVu Sans Condensed','Liberation Sans',sans-serif">15</text>
<text x="1644.3" y="832" font-size="9" fill="#000" stroke="#000" stroke-width="0.15" font-family="'DejaVu Sans Condensed','Liberation Sans',sans-serif">0</text>
<g shape-rendering="crispEdges" fill="#000"><rect x="1642" y="640" width="1" height="1"/><rect x="1642" y="731" width="2" height="1"/><rect x="1642" y="741" width="1" height="1"/><rect x="1642" y="745" width="1" height="1"/><rect x="1642" y="834" width="1" height="1"/></g>
<g shape-rendering="crispEdges">
<rect x="5" y="836" width="1" height="3" fill="#000"/>
<rect x="69" y="836" width="1" height="3" fill="#000"/>
<rect x="133" y="836" width="1" height="3" fill="#000"/>
<rect x="197" y="836" width="1" height="3" fill="#000"/>
<rect x="261" y="836" width="1" height="3" fill="#000"/>
<rect x="325" y="836" width="1" height="3" fill="#000"/>
<rect x="389" y="836" width="1" height="3" fill="#000"/>
<rect x="453" y="836" width="1" height="3" fill="#000"/>
<rect x="517" y="836" width="1" height="3" fill="#000"/>
<rect x="581" y="836" width="1" height="3" fill="#000"/>
<rect x="645" y="836" width="1" height="3" fill="#000"/>
<rect x="709" y="836" width="1" height="3" fill="#000"/>
<rect x="773" y="836" width="1" height="3" fill="#000"/>
<rect x="837" y="836" width="1" height="3" fill="#000"/>
<rect x="901" y="836" width="1" height="3" fill="#000"/>
<rect x="965" y="836" width="1" height="3" fill="#000"/>
<rect x="1029" y="836" width="1" height="3" fill="#000"/>
<rect x="1093" y="836" width="1" height="3" fill="#000"/>
<rect x="1157" y="836" width="1" height="3" fill="#000"/>
<rect x="1221" y="836" width="1" height="3" fill="#000"/>
<rect x="1285" y="836" width="1" height="3" fill="#000"/>
<rect x="1349" y="836" width="1" height="3" fill="#000"/>
</g>
<text x="4" y="848" font-size="9" fill="#000" stroke="#000" stroke-width="0.15" font-family="'DejaVu Sans Condensed','Liberation Sans',sans-serif" letter-spacing="0.1">28 Sep 2022</text>
<text x="68" y="848" font-size="9" fill="#000" stroke="#000" stroke-width="0.15" font-family="'DejaVu Sans Condensed','Liberation Sans',sans-serif" letter-spacing="0.1">29 Sep 08:00</text>
<text x="132" y="848" font-size="9" fill="#000" stroke="#000" stroke-width="0.15" font-family="'DejaVu Sans Condensed','Liberation Sans',sans-serif" letter-spacing="0.1">30 Sep 00:00</text>
<text x="196" y="848" font-size="9" fill="#000" stroke="#000" stroke-width="0.15" font-family="'DejaVu Sans Condensed','Liberation Sans',sans-serif" letter-spacing="0.1">30 Sep 16:00</text>
<text x="260" y="848" font-size="9" fill="#000" stroke="#000" stroke-width="0.15" font-family="'DejaVu Sans Condensed','Liberation Sans',sans-serif" letter-spacing="0.1">3 Oct 08:00</text>
<text x="324" y="848" font-size="9" fill="#000" stroke="#000" stroke-width="0.15" font-family="'DejaVu Sans Condensed','Liberation Sans',sans-serif" letter-spacing="0.1">4 Oct 00:00</text>
<text x="388" y="848" font-size="9" fill="#000" stroke="#000" stroke-width="0.15" font-family="'DejaVu Sans Condensed','Liberation Sans',sans-serif" letter-spacing="0.1">4 Oct 16:00</text>
<text x="452" y="848" font-size="9" fill="#000" stroke="#000" stroke-width="0.15" font-family="'DejaVu Sans Condensed','Liberation Sans',sans-serif" letter-spacing="0.1">5 Oct 08:00</text>
<text x="516" y="848" font-size="9" fill="#000" stroke="#000" stroke-width="0.15" font-family="'DejaVu Sans Condensed','Liberation Sans',sans-serif" letter-spacing="0.1">6 Oct 00:00</text>
<text x="580" y="848" font-size="9" fill="#000" stroke="#000" stroke-width="0.15" font-family="'DejaVu Sans Condensed','Liberation Sans',sans-serif" letter-spacing="0.1">6 Oct 16:00</text>
<text x="644" y="848" font-size="9" fill="#000" stroke="#000" stroke-width="0.15" font-family="'DejaVu Sans Condensed','Liberation Sans',sans-serif" letter-spacing="0.1">7 Oct 08:00</text>
<text x="708" y="848" font-size="9" fill="#000" stroke="#000" stroke-width="0.15" font-family="'DejaVu Sans Condensed','Liberation Sans',sans-serif" letter-spacing="0.1">10 Oct 00:00</text>
<text x="772" y="848" font-size="9" fill="#000" stroke="#000" stroke-width="0.15" font-family="'DejaVu Sans Condensed','Liberation Sans',sans-serif" letter-spacing="0.1">10 Oct 16:00</text>
<text x="836" y="848" font-size="9" fill="#000" stroke="#000" stroke-width="0.15" font-family="'DejaVu Sans Condensed','Liberation Sans',sans-serif" letter-spacing="0.1">11 Oct 08:00</text>
<text x="900" y="848" font-size="9" fill="#000" stroke="#000" stroke-width="0.15" font-family="'DejaVu Sans Condensed','Liberation Sans',sans-serif" letter-spacing="0.1">12 Oct 00:00</text>
<text x="964" y="848" font-size="9" fill="#000" stroke="#000" stroke-width="0.15" font-family="'DejaVu Sans Condensed','Liberation Sans',sans-serif" letter-spacing="0.1">12 Oct 16:00</text>
<text x="1028" y="848" font-size="9" fill="#000" stroke="#000" stroke-width="0.15" font-family="'DejaVu Sans Condensed','Liberation Sans',sans-serif" letter-spacing="0.1">13 Oct 08:00</text>
<text x="1092" y="848" font-size="9" fill="#000" stroke="#000" stroke-width="0.15" font-family="'DejaVu Sans Condensed','Liberation Sans',sans-serif" letter-spacing="0.1">14 Oct 00:00</text>
<text x="1156" y="848" font-size="9" fill="#000" stroke="#000" stroke-width="0.15" font-family="'DejaVu Sans Condensed','Liberation Sans',sans-serif" letter-spacing="0.1">14 Oct 16:00</text>
<text x="1220" y="848" font-size="9" fill="#000" stroke="#000" stroke-width="0.15" font-family="'DejaVu Sans Condensed','Liberation Sans',sans-serif" letter-spacing="0.1">17 Oct 08:00</text>
<text x="1284" y="848" font-size="9" fill="#000" stroke="#000" stroke-width="0.15" font-family="'DejaVu Sans Condensed','Liberation Sans',sans-serif" letter-spacing="0.1">18 Oct 00:00</text>
<text x="1348" y="848" font-size="9" fill="#000" stroke="#000" stroke-width="0.15" font-family="'DejaVu Sans Condensed','Liberation Sans',sans-serif" letter-spacing="0.1">18 Oct 16:00</text>
<defs>
<pattern id="chk" width="2" height="2" patternUnits="userSpaceOnUse"><rect width="2" height="2" fill="#f0f0f0"/><rect width="1" height="1" fill="#fff"/><rect x="1" y="1" width="1" height="1" fill="#fff"/></pattern>
<linearGradient id="gplus" x1="0" y1="0" x2="1" y2="1"><stop offset="0" stop-color="#7dff8a"/><stop offset="0.5" stop-color="#18e63a"/><stop offset="1" stop-color="#0aa81e"/></linearGradient>
<linearGradient id="gbook" x1="0" y1="0" x2="1" y2="1"><stop offset="0" stop-color="#fff3a0"/><stop offset="0.5" stop-color="#f2c21c"/><stop offset="1" stop-color="#d89a10"/></linearGradient>
<linearGradient id="gcloud" x1="0" y1="0" x2="0" y2="1"><stop offset="0" stop-color="#ffffff"/><stop offset="1" stop-color="#b4c0dc"/></linearGradient>
<linearGradient id="gbadge" x1="0" y1="0" x2="0" y2="1"><stop offset="0" stop-color="#ea5a3c"/><stop offset="1" stop-color="#d81a04"/></linearGradient>
<linearGradient id="gface" x1="0" y1="0" x2="1" y2="1"><stop offset="0" stop-color="#f5c820"/><stop offset="0.6" stop-color="#fff27a"/><stop offset="1" stop-color="#e8b010"/></linearGradient>
<linearGradient id="ghat" x1="0" y1="0" x2="0" y2="1"><stop offset="0" stop-color="#86c8f0"/><stop offset="1" stop-color="#3a98c8"/></linearGradient>
<radialGradient id="grad" cx="0.5" cy="0.5" r="0.5"><stop offset="0" stop-color="#ffffff"/><stop offset="1" stop-color="#d0e4f4"/></radialGradient>
<linearGradient id="gbub" x1="0" y1="0" x2="0" y2="1"><stop offset="0" stop-color="#ffffff"/><stop offset="1" stop-color="#c8c8dc"/></linearGradient>
<linearGradient id="gclock" x1="0" y1="0" x2="0.4" y2="1"><stop offset="0" stop-color="#3a96f4"/><stop offset="1" stop-color="#0a3c9c"/></linearGradient>
<linearGradient id="gcand" x1="0" y1="0" x2="0" y2="1"><stop offset="0" stop-color="#90ff9c"/><stop offset="1" stop-color="#2cdc44"/></linearGradient>
</defs>
<g shape-rendering="crispEdges">
<rect x="2" y="0" width="1" height="19" fill="#a0a0a0"/>
<rect x="238" y="0" width="1" height="19" fill="#a0a0a0"/>
<rect x="239" y="0" width="1" height="19" fill="#ffffff"/>
<rect x="242" y="1" width="3" height="1" fill="#a0a0a0"/>
<rect x="242" y="3" width="3" height="1" fill="#a0a0a0"/>
<rect x="242" y="5" width="3" height="1" fill="#a0a0a0"/>
<rect x="242" y="7" width="3" height="1" fill="#a0a0a0"/>
<rect x="242" y="9" width="3" height="1" fill="#a0a0a0"/>
<rect x="242" y="11" width="3" height="1" fill="#a0a0a0"/>
<rect x="242" y="13" width="3" height="1" fill="#a0a0a0"/>
<rect x="242" y="15" width="3" height="1" fill="#a0a0a0"/>
<rect x="242" y="17" width="3" height="1" fill="#a0a0a0"/>
<rect x="277" y="0" width="24" height="18" fill="url(#chk)"/>
<rect x="276" y="0" width="1" height="19" fill="#a0a0a0"/>
<rect x="301" y="0" width="1" height="20" fill="#ffffff"/>
<rect x="276" y="18" width="25" height="2" fill="#ffffff"/>
<rect x="276" y="18" width="1" height="1" fill="#c8c8c8"/>
<rect x="333" y="0" width="1" height="19" fill="#a0a0a0"/>
<rect x="423" y="0" width="1" height="19" fill="#a0a0a0"/>
<rect x="424" y="0" width="1" height="19" fill="#ffffff"/>
<rect x="429" y="0" width="24" height="18" fill="url(#chk)"/>
<rect x="428" y="0" width="1" height="19" fill="#a0a0a0"/>
<rect x="453" y="0" width="1" height="20" fill="#ffffff"/>
<rect x="428" y="18" width="25" height="2" fill="#ffffff"/>
<rect x="428" y="18" width="1" height="1" fill="#c8c8c8"/>
<rect x="457" y="0" width="24" height="18" fill="url(#chk)"/>
<rect x="456" y="0" width="1" height="19" fill="#a0a0a0"/>
<rect x="481" y="0" width="1" height="20" fill="#ffffff"/>
<rect x="456" y="18" width="25" height="2" fill="#ffffff"/>
<rect x="456" y="18" width="1" height="1" fill="#c8c8c8"/>
<rect x="485" y="0" width="1" height="19" fill="#a0a0a0"/>
<rect x="606" y="0" width="1" height="19" fill="#a0a0a0"/>
<rect x="607" y="0" width="1" height="19" fill="#ffffff"/>
<rect x="610" y="1" width="3" height="1" fill="#a0a0a0"/>
<rect x="610" y="3" width="3" height="1" fill="#a0a0a0"/>
<rect x="610" y="5" width="3" height="1" fill="#a0a0a0"/>
<rect x="610" y="7" width="3" height="1" fill="#a0a0a0"/>
<rect x="610" y="9" width="3" height="1" fill="#a0a0a0"/>
<rect x="610" y="11" width="3" height="1" fill="#a0a0a0"/>
<rect x="610" y="13" width="3" height="1" fill="#a0a0a0"/>
<rect x="610" y="15" width="3" height="1" fill="#a0a0a0"/>
<rect x="610" y="17" width="3" height="1" fill="#a0a0a0"/>
<rect x="617" y="0" width="24" height="18" fill="url(#chk)"/>
<rect x="616" y="0" width="1" height="19" fill="#a0a0a0"/>
<rect x="641" y="0" width="1" height="20" fill="#ffffff"/>
<rect x="616" y="18" width="25" height="2" fill="#ffffff"/>
<rect x="616" y="18" width="1" height="1" fill="#c8c8c8"/>
<rect x="673" y="0" width="1" height="19" fill="#a0a0a0"/>
<rect x="912" y="0" width="1" height="19" fill="#a0a0a0"/>
<rect x="913" y="0" width="1" height="19" fill="#ffffff"/>
<rect x="916" y="1" width="3" height="1" fill="#a0a0a0"/>
<rect x="916" y="3" width="3" height="1" fill="#a0a0a0"/>
<rect x="916" y="5" width="3" height="1" fill="#a0a0a0"/>
<rect x="916" y="7" width="3" height="1" fill="#a0a0a0"/>
<rect x="916" y="9" width="3" height="1" fill="#a0a0a0"/>
<rect x="916" y="11" width="3" height="1" fill="#a0a0a0"/>
<rect x="916" y="13" width="3" height="1" fill="#a0a0a0"/>
<rect x="916" y="15" width="3" height="1" fill="#a0a0a0"/>
<rect x="916" y="17" width="3" height="1" fill="#a0a0a0"/>
<rect x="1063" y="0" width="23" height="18" fill="url(#chk)"/>
<rect x="1062" y="0" width="1" height="19" fill="#a0a0a0"/>
<rect x="1086" y="0" width="1" height="20" fill="#ffffff"/>
<rect x="1062" y="18" width="24" height="2" fill="#ffffff"/>
<rect x="1062" y="18" width="1" height="1" fill="#c8c8c8"/>
<rect x="1174" y="0" width="1" height="19" fill="#a0a0a0"/>
</g>
<path d="M12.5 2.5 Q12.5 1.5 13.5 1.5 L20 1.5 L23.5 5 L23.5 13.5 Q23.5 14.5 22.5 14.5 L13.5 14.5 Q12.5 14.5 12.5 13.5 Z" fill="#fff" stroke="#7a7a7a" stroke-width="1.1"/>
<path d="M20 1.5 L20 5 L23.5 5" fill="#e0e0e0" stroke="#7a7a7a" stroke-width="0.9"/>
<g stroke="#999" stroke-width="1" shape-rendering="crispEdges"><line x1="14" y1="4.5" x2="17" y2="4.5"/><line x1="14" y1="7.5" x2="20" y2="7.5"/><line x1="14" y1="9.5" x2="18" y2="9.5"/><line x1="14" y1="11.5" x2="17" y2="11.5"/></g>
<path d="M20.400000000000002 7.7 h3.4 v3.8 h3.8 v3.4 h-3.8 v3.8 h-3.4 v-3.8 h-3.8 v-3.4 h3.8 Z" fill="url(#gplus)" stroke="#0c8a14" stroke-width="1"/>
<text x="31" y="12.2" font-size="11.4" fill="#000" font-family="'Liberation Sans','Noto Sans CJK SC','WenQuanYi Zen Hei',sans-serif" textLength="36" lengthAdjust="spacingAndGlyphs">新订单</text>
<path d="M84.7 1.9 L94 8.4 Q95.4 9.6 94.9 10.9 L86.5 16.9 L78.9 10.7 L82.7 5.6 Z" fill="#a66a0a"/>
<path d="M80 10.7 L86.5 15.8 L94 10.4 L93.4 9.2 L87.4 13.6 L81 9.4 Z" fill="#e8c870"/>
<path d="M84.9 3.2 L93.2 9 L87.5 13.6 L80.6 9.6 L83.4 5.8 Z" fill="url(#gbook)"/>
<path d="M80.2 10.4 L86.6 15.2" stroke="#fbe48c" stroke-width="1.2" fill="none"/>
<path d="M109.3 1.8 L116 1.2 L120.3 3 L120.3 11 L109.3 11 Z" fill="#1aa0f4"/>
<path d="M109.3 1.8 L113 4 L113 11 L109.3 11 Z" fill="#0c8cf0"/>
<path d="M113 4 L120.3 3" stroke="#c8ecff" stroke-width="0.8" fill="none"/><path d="M113 4 L113 10" stroke="#c8ecff" stroke-width="0.8" fill="none"/>
<path d="M114.5 6.4 L119 5.6" stroke="#e8f8ff" stroke-width="1.2"/>
<path d="M110 16.4 Q107.3 16.4 107.3 14.2 Q107.3 12 110 11.9 Q110.6 9.5 113.3 10.2 Q115.2 8.6 117.3 10.6 Q118.3 11.2 118.5 11.6 Q119.6 10 121.5 10.8 Q123.2 12 122.8 14 Q122.6 16.4 120.3 16.4 Z" fill="url(#gcloud)" stroke="#3c5aa4" stroke-width="0.9"/>
<circle cx="143.1" cy="8.9" r="8" fill="url(#grad)"/>
<path d="M143.1 8.9 L143.1 16.9 A8 8 0 0 0 151.1 8.9 A8 8 0 0 0 146.4 1.6 Z" fill="#8cc890" opacity="0.55"/>
<g fill="none" stroke-width="0.8"><circle cx="143.1" cy="8.9" r="7.7" stroke="#6a8cdc" opacity="0.55"/><circle cx="143.1" cy="8.9" r="5.4" stroke="#8aa6e4" opacity="0.5"/><circle cx="143.1" cy="8.9" r="3.2" stroke="#b4c8f0" opacity="0.6"/><circle cx="143.1" cy="8.9" r="7.7" stroke="#2a6a5a" opacity="0.7" stroke-dasharray="15 34" transform="rotate(-55 143.1 8.9)"/><circle cx="143.1" cy="8.9" r="5.4" stroke="#e8f6e8" opacity="0.8" stroke-dasharray="10 24" transform="rotate(-50 143.1 8.9)"/><circle cx="143.1" cy="8.9" r="7.7" stroke="#4870d0" opacity="0.5" stroke-dasharray="14 35" transform="rotate(130 143.1 8.9)"/></g>
<circle cx="143.1" cy="8.7" r="2" fill="#2858c8"/>
<path d="M143.5 9.2 L143.5 16.7 L145.6 16.1" stroke="#18a018" stroke-width="1.5" fill="none"/>
<path d="M162.3 8.6 L178 7.6 L172 16.8 L170 16.8 Z" fill="url(#gface)" stroke="#d8a010" stroke-width="0.6"/>
<ellipse cx="170" cy="5.8" rx="8" ry="2.7" fill="url(#ghat)" stroke="#2a88b8" stroke-width="0.7"/>
<ellipse cx="169.8" cy="3.6" rx="3.6" ry="2.6" fill="#7cc4ee" stroke="#2a88b8" stroke-width="0.6"/>
<circle cx="174.4" cy="12.7" r="4" fill="#e22408"/>
<rect x="173.1" y="11.4" width="2.7" height="2.7" fill="#fff"/>
<text x="183.3" y="12.2" font-size="11.4" fill="#000" font-family="'Liberation Sans','Noto Sans CJK SC','WenQuanYi Zen Hei',sans-serif" textLength="47.5" lengthAdjust="spacingAndGlyphs">自动交易</text>
<g fill="#555" stroke="none" shape-rendering="crispEdges">
<rect x="256" y="3" width="1" height="14"/>
<rect x="254" y="14" width="14" height="1"/>
<rect x="255" y="4" width="3" height="1"/>
<rect x="255" y="5" width="3" height="1" opacity="0.45"/>
<rect x="266" y="13" width="1" height="3"/>
<rect x="265" y="13" width="1" height="3" opacity="0.4"/>
<rect x="257" y="6" width="1" height="11" opacity="0.12"/>
<rect x="255" y="15" width="13" height="1" opacity="0.12"/>
</g>
<g fill="#109010" shape-rendering="crispEdges"><rect x="262" y="4" width="1" height="9"/><rect x="263" y="5" width="2" height="1"/><rect x="260" y="11" width="2" height="1"/></g>
<g fill="#555" stroke="none" shape-rendering="crispEdges">
<rect x="284" y="3" width="1" height="14"/>
<rect x="282" y="14" width="14" height="1"/>
<rect x="283" y="4" width="3" height="1"/>
<rect x="283" y="5" width="3" height="1" opacity="0.45"/>
<rect x="294" y="13" width="1" height="3"/>
<rect x="293" y="13" width="1" height="3" opacity="0.4"/>
<rect x="285" y="6" width="1" height="11" opacity="0.12"/>
<rect x="283" y="15" width="13" height="1" opacity="0.12"/>
</g>
<g shape-rendering="crispEdges"><rect x="290" y="1" width="1" height="12" fill="#109010"/><rect x="288" y="3" width="5" height="8" fill="#109010"/><rect x="289" y="4" width="3" height="6" fill="url(#gcand)"/></g>
<g fill="#555" stroke="none" shape-rendering="crispEdges">
<rect x="312" y="3" width="1" height="14"/>
<rect x="310" y="14" width="14" height="1"/>
<rect x="311" y="4" width="3" height="1"/>
<rect x="311" y="5" width="3" height="1" opacity="0.45"/>
<rect x="322" y="13" width="1" height="3"/>
<rect x="321" y="13" width="1" height="3" opacity="0.4"/>
<rect x="313" y="6" width="1" height="11" opacity="0.12"/>
<rect x="311" y="15" width="13" height="1" opacity="0.12"/>
</g>
<path d="M311 11.6 Q313.5 10.5 315.2 7.8 Q316.7 5.6 318 6.6 Q320.5 9.4 323 10.2" fill="none" stroke="#209020" stroke-width="1.2"/>
<line x1="351.90000000000003" y1="11" x2="356.70000000000005" y2="15.6" stroke="#b8901c" stroke-width="3.2"/>
<line x1="352.3" y1="10.6" x2="356.70000000000005" y2="14.8" stroke="#f4d84c" stroke-width="1.4"/>
<circle cx="348.1" cy="6.8" r="5.5" fill="#d4eefa" stroke="#2e74cc" stroke-width="1.2"/>
<rect x="345.1" y="6.1" width="6" height="1.6" fill="#3c88aa"/>
<rect x="347.3" y="3.8" width="1.6" height="6" fill="#3c88aa"/>
<line x1="380.0" y1="11" x2="384.8" y2="15.6" stroke="#b8901c" stroke-width="3.2"/>
<line x1="380.4" y1="10.6" x2="384.8" y2="14.8" stroke="#f4d84c" stroke-width="1.4"/>
<circle cx="376.2" cy="6.8" r="5.5" fill="#d4eefa" stroke="#2e74cc" stroke-width="1.2"/>
<rect x="373.2" y="6.1" width="6" height="1.6" fill="#3c88aa"/>
<rect x="398.2" y="1.3" width="7.8" height="7.8" rx="0.8" fill="#3a9a14"/>
<rect x="399.09999999999997" y="4.6" width="6" height="3.8" fill="#fff"/>
<rect x="400.2" y="5.5" width="3.8" height="0.9" fill="#9cdc84"/>
<rect x="406.2" y="1.3" width="7.8" height="7.8" rx="0.8" fill="#1848c4"/>
<rect x="407.09999999999997" y="4.6" width="6" height="3.8" fill="#fff"/>
<rect x="408.2" y="5.5" width="3.8" height="0.9" fill="#8ca8f0"/>
<rect x="398.2" y="9.3" width="7.8" height="7.8" rx="0.8" fill="#1848c4"/>
<rect x="399.09999999999997" y="12.600000000000001" width="6" height="3.8" fill="#fff"/>
<rect x="400.2" y="13.5" width="3.8" height="0.9" fill="#8ca8f0"/>
<rect x="406.2" y="9.3" width="7.8" height="7.8" rx="0.8" fill="#3a9a14"/>
<rect x="407.09999999999997" y="12.600000000000001" width="6" height="3.8" fill="#fff"/>
<rect x="408.2" y="13.5" width="3.8" height="0.9" fill="#9cdc84"/>
<g fill="#555" stroke="none" shape-rendering="crispEdges">
<rect x="436" y="3" width="1" height="14"/>
<rect x="434" y="14" width="14" height="1"/>
<rect x="435" y="4" width="3" height="1"/>
<rect x="435" y="5" width="3" height="1" opacity="0.45"/>
<rect x="446" y="13" width="1" height="3"/>
<rect x="445" y="13" width="1" height="3" opacity="0.4"/>
<rect x="437" y="6" width="1" height="11" opacity="0.12"/>
<rect x="435" y="15" width="13" height="1" opacity="0.12"/>
</g>
<path d="M441.4 5.3 L441.4 11.7 L444.8 8.5 Z" fill="#70e870" stroke="#109010" stroke-width="1"/>
<g fill="#555" stroke="none" shape-rendering="crispEdges">
<rect x="464" y="3" width="1" height="14"/>
<rect x="462" y="14" width="14" height="1"/>
<rect x="463" y="4" width="3" height="1"/>
<rect x="463" y="5" width="3" height="1" opacity="0.45"/>
<rect x="474" y="13" width="1" height="3"/>
<rect x="473" y="13" width="1" height="3" opacity="0.4"/>
<rect x="465" y="6" width="1" height="11" opacity="0.12"/>
<rect x="463" y="15" width="13" height="1" opacity="0.12"/>
</g>
<rect x="470" y="3" width="1.3" height="10" fill="#1a6aa0"/>
<path d="M471.6 8.5 L476 8.5 M474.2 6 L471.8 8.5 L474.2 11" stroke="#e85a08" stroke-width="1.3" fill="none"/>
<path d="M495.5 2.5 Q495.5 1.5 496.5 1.5 L503 1.5 L506.5 5 L506.5 13.5 Q506.5 14.5 505.5 14.5 L496.5 14.5 Q495.5 14.5 495.5 13.5 Z" fill="#fff" stroke="#7a7a7a" stroke-width="1.1"/>
<path d="M503 1.5 L503 5 L506.5 5" fill="#e0e0e0" stroke="#7a7a7a" stroke-width="0.9"/>
<text x="497.5" y="11" font-size="9" font-style="italic" fill="#555" font-family="'Liberation Sans',sans-serif">f</text>
<path d="M503.7 7.6 h3.4 v3.8 h3.8 v3.4 h-3.8 v3.8 h-3.4 v-3.8 h-3.8 v-3.4 h3.8 Z" fill="url(#gplus)" stroke="#0c8a14" stroke-width="1"/>
<path d="M516.3 8 L522.3 8 L519.3 11 Z" fill="#000"/>
<circle cx="541.1" cy="8.9" r="8" fill="url(#gclock)"/>
<circle cx="541.1" cy="8.9" r="5.4" fill="#fff"/>
<circle cx="541.1" cy="8.9" r="4.4" fill="none" stroke="#999" stroke-width="0.8" stroke-dasharray="0.6 1.7"/>
<path d="M540.7 5.2 L540.7 9 L543.6 9.5" fill="none" stroke="#222" stroke-width="1.1"/>
<path d="M555.5 8 L561.5 8 L558.5 11 Z" fill="#000"/>
<rect x="572.4" y="2.4" width="15.2" height="13.4" fill="#fff" stroke="#3a78c8" stroke-width="1"/>
<rect x="572.9" y="2.9" width="14.2" height="1.8" fill="#5a98e0"/>
<rect x="572.9" y="9.3" width="14.2" height="1.2" fill="#7aa8e0"/>
<path d="M574.4 8 L576 8 L577 7 L578.5 7 L579.5 6.2 L581 6.2 L582 7.2 L583.5 7.2 L584.5 6.4 L586 6.4" fill="none" stroke="#a02810" stroke-width="1.1"/>
<path d="M575 13.8 L577 12.8 L579 13.6 L582 11.4 L584 12 L586 13.8" fill="none" stroke="#189028" stroke-width="1.1"/>
<path d="M594.4 8 L600.4 8 L597.4 11 Z" fill="#000"/>
<path d="M624 2.2 L624 12.9 L626.6 10.6 L629.4 16.1 L631 15.3 L628.2 9.9 L632 9.3 Z" fill="#4d4d4d"/>
<g fill="#444" shape-rendering="crispEdges"><rect x="656" y="2" width="1" height="6"/><rect x="656" y="11" width="1" height="6"/><rect x="649" y="9" width="6" height="1"/><rect x="658" y="9" width="6" height="1"/><rect x="656" y="9" width="1" height="1" fill="#888"/></g>
<g fill="#444" opacity="0.35" shape-rendering="crispEdges"><rect x="657" y="2" width="1" height="6"/><rect x="657" y="11" width="1" height="6"/><rect x="649" y="10" width="6" height="1"/><rect x="658" y="10" width="6" height="1"/></g>
<rect x="690" y="3" width="1.25" height="13" fill="#444"/>
<rect x="713" y="9" width="12" height="1.25" fill="#444"/>
<line x1="741" y1="16" x2="753" y2="3.8" stroke="#444" stroke-width="1.2"/>
<g stroke="#444" stroke-width="1" fill="none"><line x1="767" y1="10.8" x2="774.8" y2="3"/><line x1="769.4" y1="13.6" x2="778" y2="5"/><line x1="772" y1="16" x2="780.8" y2="7.2"/><line x1="769" y1="9" x2="769.8" y2="15"/><line x1="772" y1="6" x2="773" y2="13"/><line x1="775" y1="3.5" x2="776" y2="10.5"/><line x1="778.4" y1="1.2" x2="779" y2="8"/></g>
<text x="778" y="17.8" font-size="6.8" font-weight="bold" fill="#333" font-family="'Liberation Sans',sans-serif">E</text>
<g stroke="#444" stroke-width="1" stroke-dasharray="1 1" shape-rendering="crispEdges"><line x1="796" y1="2.5" x2="809" y2="2.5"/><line x1="796" y1="5.5" x2="809" y2="5.5"/><line x1="796" y1="9.5" x2="809" y2="9.5"/><line x1="796" y1="13.5" x2="805" y2="13.5"/></g>
<text x="805.6" y="17.8" font-size="6.8" font-weight="bold" fill="#333" font-family="'Liberation Sans',sans-serif">F</text>
<text x="827" y="14" font-size="11.8" fill="#555" stroke="#555" stroke-width="0.35" font-family="'Liberation Sans',sans-serif">A</text>
<rect x="853.5" y="3.5" width="11" height="12" fill="none" stroke="#444" stroke-width="1" stroke-dasharray="1 1" shape-rendering="crispEdges"/>
<rect x="852.6" y="2.4" width="2" height="1.4" fill="#444"/>
<text x="855" y="14" font-size="11.8" fill="#555" stroke="#555" stroke-width="0.5" font-family="'Liberation Sans',sans-serif">T</text>
<path d="M883.6 2.6 L887 5.8 L883.6 7.6 L880.2 5.8 Z" fill="#4a4a4a"/>
<path d="M890.6 15.8 L894 12.4 L890.6 10.8 L887.2 12.4 Z" fill="#4a4a4a"/>
<path d="M882.2 10.2 L884.6 12.2 L888.8 7" fill="none" stroke="#4a4a4a" stroke-width="1.1"/>
<path d="M900.5 8 L906.5 8 L903.5 11 Z" fill="#000"/>
<text x="927.4" y="13" font-size="9" fill="#333" stroke="#333" stroke-width="0.1" font-family="'DejaVu Sans Condensed','Liberation Sans',sans-serif" textLength="13.2" lengthAdjust="spacing">M1</text>
<text x="955.6" y="13" font-size="9" fill="#333" stroke="#333" stroke-width="0.1" font-family="'DejaVu Sans Condensed','Liberation Sans',sans-serif" textLength="13.2" lengthAdjust="spacing">M5</text>
<text x="981.5" y="13" font-size="9" fill="#333" stroke="#333" stroke-width="0.1" font-family="'DejaVu Sans Condensed','Liberation Sans',sans-serif" textLength="18.2" lengthAdjust="spacing">M15</text>
<text x="1009.5" y="13" font-size="9" fill="#333" stroke="#333" stroke-width="0.1" font-family="'DejaVu Sans Condensed','Liberation Sans',sans-serif" textLength="18.2" lengthAdjust="spacing">M30</text>
<text x="1040.6" y="13" font-size="9" fill="#333" stroke="#333" stroke-width="0.1" font-family="'DejaVu Sans Condensed','Liberation Sans',sans-serif" textLength="11.8" lengthAdjust="spacing">H1</text>
<text x="1067.5" y="13" font-size="9" fill="#333" stroke="#333" stroke-width="0.1" font-family="'DejaVu Sans Condensed','Liberation Sans',sans-serif" textLength="12.4" lengthAdjust="spacing">H4</text>
<text x="1096.5" y="13" font-size="9" fill="#333" stroke="#333" stroke-width="0.1" font-family="'DejaVu Sans Condensed','Liberation Sans',sans-serif" textLength="12" lengthAdjust="spacing">D1</text>
<text x="1124" y="13" font-size="9" fill="#333" stroke="#333" stroke-width="0.1" font-family="'DejaVu Sans Condensed','Liberation Sans',sans-serif" textLength="14.2" lengthAdjust="spacing">W1</text>
<text x="1150.8" y="13" font-size="9" fill="#333" stroke="#333" stroke-width="0.1" font-family="'DejaVu Sans Condensed','Liberation Sans',sans-serif" textLength="14.6" lengthAdjust="spacingAndGlyphs">MN</text>
<line x1="1640.6" y1="9.6" x2="1636.2" y2="13.8" stroke="#2a5cd0" stroke-width="2.6"/>
<circle cx="1643.7" cy="6.4" r="3.9" fill="#f4f4fc" stroke="#2a5cd0" stroke-width="1.3"/>
<path d="M1663.2 17.6 L1663.8 15.4 Q1660 14.6 1660 11.2 Q1660 6.6 1665.8 6.6 Q1671.6 6.6 1671.6 11.2 Q1671.6 15.6 1666 15.6 Q1665 15.6 1664.8 15.8 Z" fill="url(#gbub)" stroke="#b0b0b0" stroke-width="0.9"/>
<circle cx="1674.5" cy="6.6" r="8.3" fill="url(#gbadge)"/>
<text x="1670.6" y="11.1" font-size="13.4" font-weight="bold" fill="#fff" font-family="'Liberation Serif',serif">1</text>
</svg></body></html>
